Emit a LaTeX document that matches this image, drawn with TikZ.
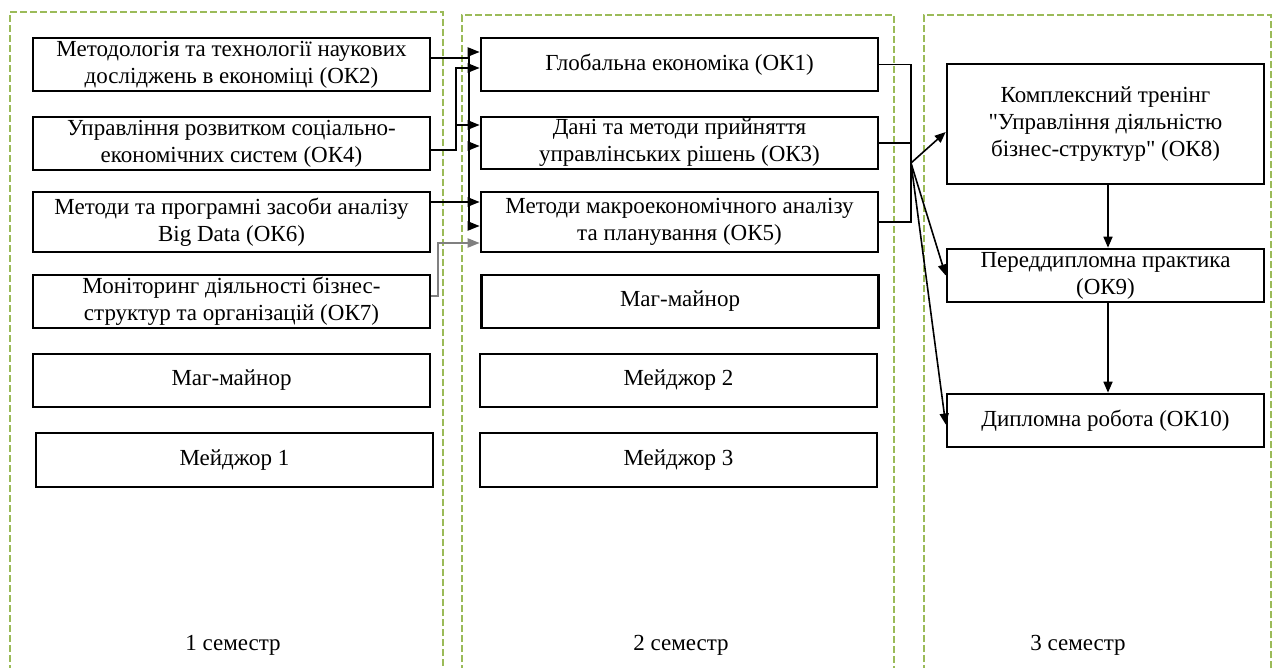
\documentclass[tikz,border=0pt]{standalone}
\usepackage{fontspec}
\setmainfont{Liberation Serif}[Ligatures=TeXOff]
\usetikzlibrary{arrows.meta}
\definecolor{grn}{HTML}{9BBB59}
\begin{document}
\begin{tikzpicture}[x=1pt,y=-1pt,
  box/.style={draw,line width=2.6pt,inner sep=0pt,align=center,
    font=\fontsize{23}{27}\selectfont,minimum height=53pt,minimum width=397pt},
  lbl/.style={inner sep=0pt,font=\fontsize{23}{27}\selectfont},
  frame/.style={draw=grn,line width=2pt,dash pattern=on 7pt off 3pt},
  conn/.style={line width=2pt},
  arr/.style={conn,-{Triangle[length=12pt,width=9pt]}},
  thinconn/.style={line width=1.6pt},
  arrb/.style={thinconn,-{Triangle[length=11pt,width=9pt]}}]
\useasboundingbox (0,0) rectangle (1278,668);
% semester frames
\draw[frame] (10,672) -- (10,12) -- (443,12) -- (443,672);
\draw[frame] (462,672) -- (462,15) -- (894,15) -- (894,672);
\draw[frame] (924,672) -- (924,15) -- (1271,15) -- (1271,672);
% column 1
\node[box] (ok2) at (231.5,64.5) {Методологія та технології наукових\\досліджень в економіці (ОК2)};
\node[box] (ok4) at (231.5,143.5) {Управління розвитком соціально-\\економічних систем (ОК4)};
\node[box,minimum height=60pt] (ok6) at (231.5,222) {Методи та програмні засоби аналізу\\Big Data (ОК6)};
\node[box] (ok7) at (231.5,301.5) {Моніторинг діяльності бізнес-\\структур та організацій (ОК7)};
\node[box] (mm1) at (231.5,380.5) {Маг-майнор};
\node[box,minimum height=54pt] (mj1) at (234.5,460) {Мейджор 1};
% column 2
\node[box] (ok1) at (679.5,64.5) {Глобальна економіка (ОК1)};
\node[box,minimum height=52pt] (ok3) at (679.5,143) {Дані та методи прийняття\\управлінських рішень (ОК3)};
\node[box,minimum height=60pt] (ok5) at (679.5,222) {Методи макроекономічного аналізу\\та планування (ОК5)};
\node[box] (mm2) at (680,301.5) {Маг-майнор};
\node[box] (mj2) at (678.5,380.5) {Мейджор 2};
\node[box,minimum height=54pt] (mj3) at (678.5,460) {Мейджор 3};
% column 3
\node[box,minimum width=317pt,minimum height=120pt] (ok8) at (1105.5,124) {Комплексний тренінг\\"Управління діяльністю\\бізнес-структур" (ОК8)};
\node[box,minimum width=317pt] (ok9) at (1105.5,275.5) {Переддипломна практика\\(ОК9)};
\node[box,minimum width=317pt] (ok10) at (1105.5,420.5) {Дипломна робота (ОК10)};
% semester labels
\node[lbl] (s1) at (233,645) {1 семестр};
\node[lbl] (s2) at (681,645) {2 семестр};
\node[lbl] (s3) at (1078,645) {3 семестр};
% connectors column 1 -> column 2
\coordinate (ja) at (469,58);
\draw[arr] ([yshift=6.5pt]ok2.east) -- (ja) |- ([yshift=12.5pt]ok1.west);
\draw[arr] (ja) |- ([yshift=-3pt]ok3.west);
\draw[arr] (ja) |- ([yshift=-4pt]ok5.west);
\coordinate (jb) at (456,150);
\draw[arr] ([yshift=-6.5pt]ok4.east) -- (jb) |- ([yshift=-3.5pt]ok1.west);
\draw[arr] (jb) |- ([yshift=18pt]ok3.west);
\draw[arr] ([yshift=20pt]ok6.east) -- ([yshift=20pt]ok5.west);
\coordinate (jc) at (437.5,296);
\draw[conn,gray,-{Triangle[length=12pt,width=9pt]}] ([yshift=5.5pt]ok7.east) -- (jc) |- ([yshift=-21pt]ok5.west);
% column 2 -> column 3
\coordinate (fan) at (911,163);
\draw[thinconn] (ok1.east) -| (fan);
\draw[thinconn] (ok3.east) -| (fan);
\draw[thinconn] (ok5.east) -| (fan);
\draw[arrb] (fan) -- ([yshift=-8pt]ok8.west);
\draw[arrb] (fan) -- (ok9.west);
\draw[arrb] (fan) -- ([yshift=-4pt]ok10.west);
\draw[arrb] ([xshift=2.5pt]ok8.south) -- ([xshift=2.5pt]ok9.north);
\draw[arrb] ([xshift=2.5pt]ok9.south) -- ([xshift=2.5pt]ok10.north);
\end{tikzpicture}
\end{document}
